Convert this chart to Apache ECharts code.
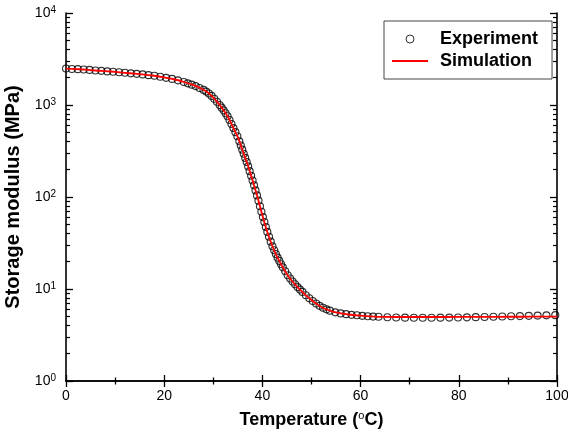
<!DOCTYPE html>
<html>
<head>
<meta charset="utf-8">
<script src="https://cdn.jsdelivr.net/npm/echarts@6/dist/echarts.min.js"></script>
<style>
html,body{margin:0;padding:0;background:#fff;}
#chart{width:568px;height:433px;}
</style>
</head>
<body>
<div id="chart"></div>
<script>
// Experiment (circles)
const expTemp = [0,1.2,2.4,3.6,4.8,6.0,7.2,8.4,9.6,10.8,12.0,13.2,14.4,15.6,16.8,18.0,19.2,20.4,21.6,22.8,24.0,
  24.8,25.6,26.4,27.2,28.0,
  28.55,29.1,29.65,30.2,30.75,31.3,
  31.7,32.1,32.5,32.9,33.3,33.7,34.1,34.5,34.9,35.3,
  35.6,35.9,36.2,36.5,36.8,37.1,37.4,37.7,38.0,38.3,38.6,38.9,39.2,39.5,39.8,40.1,40.4,40.7,41.0,
  41.35,41.7,42.05,42.4,42.75,43.1,43.45,43.8,44.15,
  44.65,45.15,45.65,46.15,46.65,47.15,47.65,48.15,
  48.85,49.55,50.25,50.95,51.65,52.35,53.05,53.75,
  54.85,55.95,57.05,58.15,59.25,60.35,61.45,62.55,63.65,
  65.45,67.25,69.05,70.85,72.65,74.45,76.25,78.05,79.85,81.65,83.45,85.25,87.05,88.85,90.65,92.45,94.25,96.05,97.85,99.65];
const expModulus = [2490,2465,2450,2430,2405,2370,2350,2320,2300,2270,2240,2210,2180,2150,2110,2080,2030,1975,1920,1855,1780,
  1720,1665,1605,1530,1460,
  1400,1335,1255,1170,1085,1000,
  935,875,813,755,687,621,561,507,458,403,
  363,327,295,266,240,215,191,170,151,134,118,104,91.2,79.4,69.2,60.5,53.5,47.2,41.7,
  37.0,32.7,29.1,26.4,24.0,21.9,20.2,18.6,17.2,
  15.6,14.1,13.0,12.05,11.25,10.5,9.86,9.29,
  8.55,7.94,7.41,6.95,6.56,6.25,6.01,5.82,
  5.58,5.43,5.33,5.24,5.18,5.11,5.06,5.01,4.99,
  4.93,4.90,4.88,4.87,4.87,4.87,4.88,4.89,4.90,4.92,4.94,4.96,4.99,5.02,5.05,5.08,5.11,5.14,5.17,5.20];
// Simulation (red line)
const simTemp = [0,2,4,6,8,10,12,14,16,18,20,22,24,26,28,29,30,31,32,33,34,35,36,37,38,39,40,41,42,43,44,45,46,47,48,49,50,51,52,53,54,55,56,58,60,62,65,70,75,80,85,90,95,100];
const simModulus = [2483,2455,2427,2371,2333,2291,2239,2188,2138,2080,1995,1905,1778,1641,1462,1349,1202,1047,891,741,575,447,316,224,151,100,63.1,41.7,29.5,22.4,17.8,14.5,12.3,10.7,9.44,8.41,7.59,6.92,6.38,6.03,5.75,5.56,5.43,5.25,5.13,5.04,4.97,4.96,4.96,4.97,4.98,4.99,5.0,5.01];
// Axis ticks
const xTicks = [0,20,40,60,80,100];
const yMin = 1, yMax = 10000;
const seriesNames = ['Experiment','Simulation'];

const FONT = 'Liberation Sans, Arial, sans-serif';
const minorLogs = [];
for (let n = 0; n < 4; n++) for (let k = 2; k <= 9; k++) minorLogs.push(n + Math.log10(k));

const axisLine = {show:true, lineStyle:{color:'#000', width:1.6}};
const chart = echarts.init(document.getElementById('chart'), null, {renderer:'canvas'});
chart.setOption({
  backgroundColor:'#fff',
  animation:false,
  grid:{left:66, right:11, top:13, bottom:52, containLabel:false, outerBoundsMode:'none'},
  legend:{
    orient:'vertical', left:384, top:21,
    padding:[9,14,9,8], itemGap:4, itemWidth:36, itemHeight:8,
    borderColor:'#444', borderWidth:1, backgroundColor:'#fff',
    textStyle:{fontSize:18, fontWeight:'bold', fontFamily:FONT, color:'#000', lineHeight:18, padding:[0,0,0,7]},
    data:[
      {name:seriesNames[0], icon:'circle', itemStyle:{color:'rgba(0,0,0,0)', borderColor:'#000', borderWidth:1}},
      {name:seriesNames[1], icon:'path://M0,0 L36,0 L36,1.8 L0,1.8 Z', itemStyle:{color:'#ff0000', borderWidth:0}}
    ]
  },
  xAxis:[
    {type:'value', position:'bottom', min:xTicks[0], max:xTicks[xTicks.length-1], interval:20,
     axisLine, splitLine:{show:false},
     axisTick:{show:true, inside:true, length:6, lineStyle:{color:'#000', width:1.3}},
     minorTick:{show:true, splitNumber:2, length:3.5, lineStyle:{color:'#000', width:1.3}},
     axisLabel:{fontSize:14, color:'#000', fontFamily:FONT, margin:8},
     name:'{t|Temperature (}{s|o}{t|C)}', nameLocation:'middle', nameGap:29,
     nameTextStyle:{fontFamily:FONT, color:'#000', rich:{
       t:{fontSize:18, fontWeight:'bold', fontFamily:FONT, color:'#000', lineHeight:20},
       s:{fontSize:11, fontWeight:'normal', fontFamily:FONT, color:'#000', verticalAlign:'top', lineHeight:11}
     }}},
    {type:'value', position:'top', min:xTicks[0], max:xTicks[xTicks.length-1], interval:20,
     axisLine, splitLine:{show:false},
     axisTick:{show:true, inside:true, length:6, lineStyle:{color:'#000', width:1.3}},
     minorTick:{show:true, splitNumber:2, length:3.5, lineStyle:{color:'#000', width:1.3}},
     axisLabel:{show:false}}
  ],
  yAxis:[
    {type:'log', logBase:10, position:'left', min:yMin, max:yMax, splitNumber:4,
     axisLine, splitLine:{show:false},
     axisTick:{show:true, inside:true, length:7, lineStyle:{color:'#000', width:1.3}},
     axisLabel:{margin:10, color:'#000', fontFamily:FONT,
       formatter:v => '{b|10}{s|' + Math.round(Math.log10(v)) + '}',
       rich:{
         b:{fontSize:14, fontFamily:FONT, color:'#000', lineHeight:16},
         s:{fontSize:10, fontFamily:FONT, color:'#000', verticalAlign:'top', lineHeight:10}
       }},
     name:'Storage modulus (MPa)', nameLocation:'middle', nameGap:39, nameRotate:90,
     nameTextStyle:{fontSize:20, fontWeight:'bold', fontFamily:FONT, color:'#000'}},
    {type:'value', position:'left', min:0, max:4,
     axisLine:{show:false}, splitLine:{show:false}, axisLabel:{show:false},
     axisTick:{show:true, inside:true, length:4, customValues:minorLogs, lineStyle:{color:'#000', width:1.2}}},
    {type:'log', logBase:10, position:'right', min:yMin, max:yMax, splitNumber:4,
     axisLine, splitLine:{show:false}, axisLabel:{show:false},
     axisTick:{show:true, inside:true, length:7, lineStyle:{color:'#000', width:1.3}}},
    {type:'value', position:'right', min:0, max:4,
     axisLine:{show:false}, splitLine:{show:false}, axisLabel:{show:false},
     axisTick:{show:true, inside:true, length:4, customValues:minorLogs, lineStyle:{color:'#000', width:1.2}}}
  ],
  series:[
    {name:seriesNames[0], type:'scatter', xAxisIndex:0, yAxisIndex:0,
     symbol:'circle', symbolSize:7,
     itemStyle:{color:'rgba(0,0,0,0)', borderColor:'#000', borderWidth:1.15},
     data:expTemp.map((t,i)=>[t, expModulus[i]]), z:2},
    {name:seriesNames[1], type:'line', xAxisIndex:0, yAxisIndex:0,
     symbol:'none', showSymbol:false, smooth:0.3,
     lineStyle:{color:'#ff0000', width:1.8}, itemStyle:{color:'#ff0000'},
     data:simTemp.map((t,i)=>[t, simModulus[i]]), z:3}
  ]
});
</script>
</body>
</html>
